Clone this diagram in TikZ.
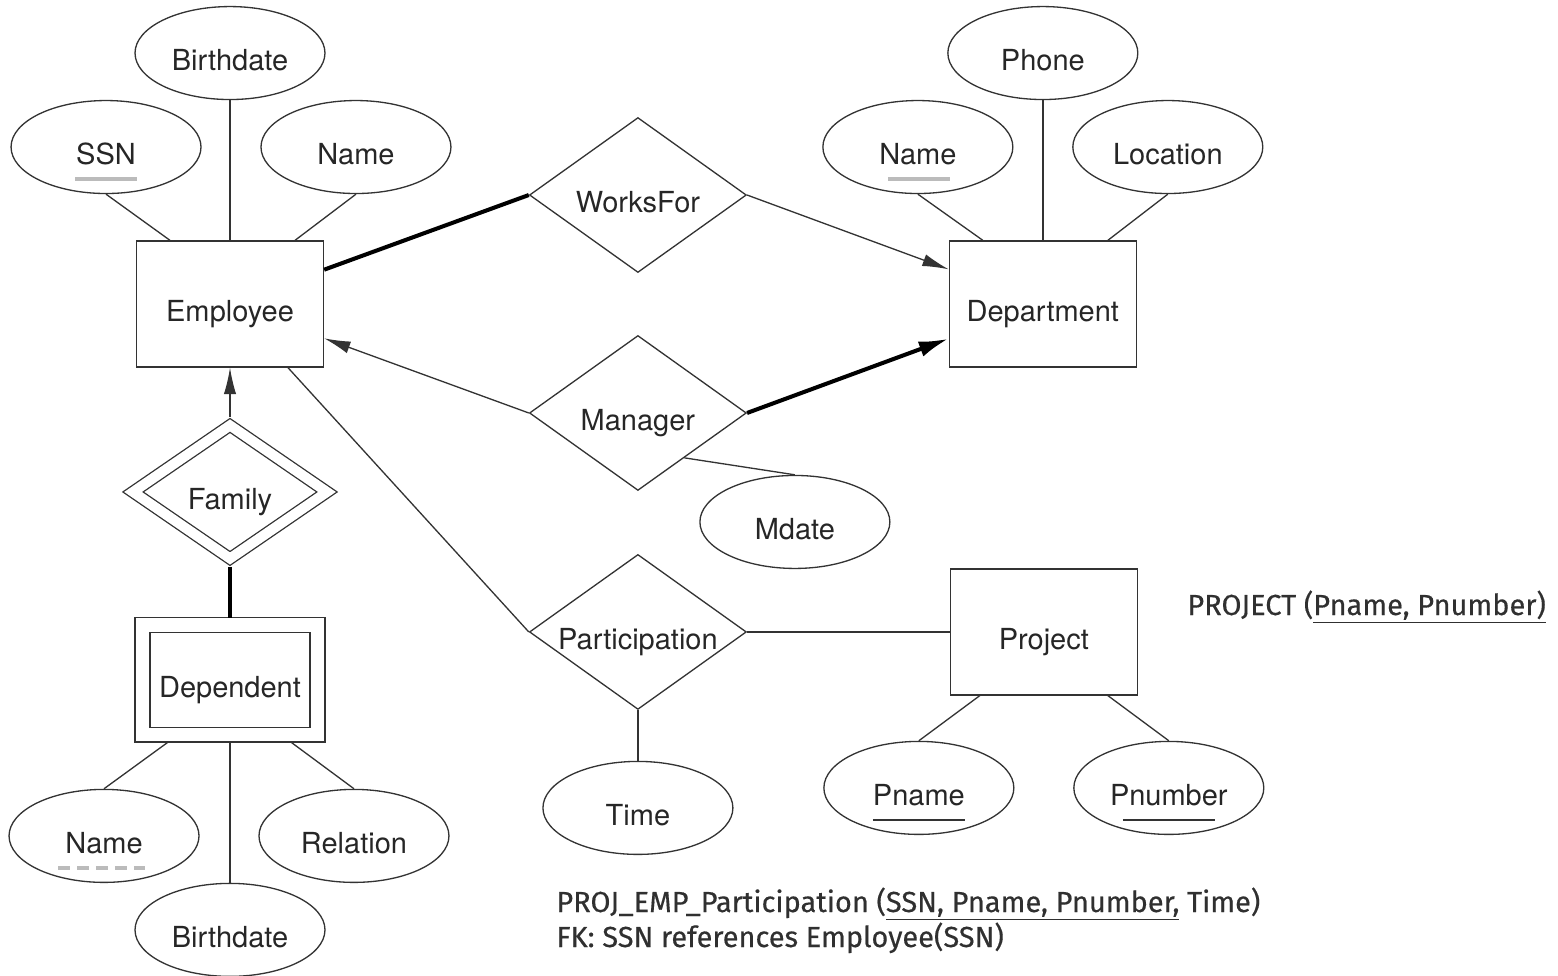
\documentclass[tikz,border=0pt]{standalone}
\usepackage{fontspec}
\newfontfamily\erfont{TeX Gyre Heros}
\newfontfamily\notefont{Fira Sans}[FakeBold=0.4]
\usetikzlibrary{positioning,shapes.geometric,arrows.meta}
\definecolor{erline}{HTML}{333333}
\definecolor{keygray}{HTML}{BBBBBB}
\definecolor{notegray}{HTML}{303030}

\tikzset{
  erfont/.style={font=\erfont\fontsize{16.5pt}{20pt}\selectfont, text=black!85,
    text height=20pt, text depth=0pt},
  entity/.style={erfont, draw=erline, line width=0.75pt, rectangle, inner sep=0pt,
    minimum width=3.74cm, minimum height=2.52cm},
  weakentity/.style={entity, double, double distance=0.27cm, outer sep=0.15cm,
    minimum width=3.5cm, minimum height=2.19cm},
  attr/.style={erfont, draw=erline, line width=0.75pt, ellipse, inner sep=0pt,
    minimum width=3.8cm, minimum height=1.86cm},
  relation/.style={erfont, draw=erline, line width=0.75pt, diamond, aspect=1.4, inner sep=0pt,
    minimum width=4.34cm, minimum height=3.1cm},
  weakrel/.style={relation, double, double distance=0.2cm, outer sep=0.12cm, aspect=1.44,
    minimum width=3.98cm, minimum height=2.76cm},
  link/.style={draw=erline, line width=0.75pt},
  total/.style={draw=black, line width=2.3pt},
  toone/.style={link, -{Latex[length=15pt, width=7pt]}},
  totalone/.style={total, -{Latex[length=17pt, width=9pt]}},
  keyline/.style={draw=keygray, line width=2.6pt},
  partkey/.style={keyline, dash pattern=on 6.8pt off 4pt},
  pkey/.style={draw=black!80, line width=0.8pt},
  note/.style={font=\notefont\fontsize{16.5pt}{20pt}\selectfont, text=notegray, inner sep=0pt}
}

\begin{document}
\begin{tikzpicture}[x=0.02cm, y=-0.02cm, on grid]

  \useasboundingbox (0,0) rectangle (1558,976);

  % entities and relationships
  \node[entity] (emp) at (230,304) {Employee};
  \node[entity, right=16.26cm of emp] (dept) {Department};
  \node[relation, above right=2.18cm and 8.16cm of emp] (wf) {WorksFor};
  \node[relation, below right=2.18cm and 8.16cm of emp] (mgr) {Manager};
  \node[weakrel, below=3.76cm of emp] (fam) {Family};
  \node[weakentity, below=3.76cm of fam] (dep) {Dependent};
  \node[relation, below=4.38cm of mgr] (part) {Participation};
  \node[entity, right=8.12cm of part] (proj) {Project};

  % attributes
  \node[attr, above=5.02cm of emp] (empbd) {Birthdate};
  \node[attr, above left=3.14cm and 2.48cm of emp] (ssn) {SSN};
  \node[attr, above right=3.14cm and 2.52cm of emp] (empname) {Name};
  \node[attr, above=5.02cm of dept] (phone) {Phone};
  \node[attr, above left=3.14cm and 2.5cm of dept] (deptname) {Name};
  \node[attr, above right=3.14cm and 2.5cm of dept] (loc) {Location};
  \node[attr, below right=2.18cm and 3.14cm of mgr] (mdate) {Mdate};
  \node[attr, below=3.52cm of part] (time) {Time};
  \node[attr, below left=3.12cm and 2.5cm of proj] (pname) {Pname};
  \node[attr, below right=3.12cm and 2.5cm of proj] (pnum) {Pnumber};
  \node[attr, below left=3.12cm and 2.52cm of dep] (depname) {Name};
  \node[attr, below right=3.12cm and 2.48cm of dep] (rel) {Relation};
  \node[attr, below=5cm of dep] (depbd) {Birthdate};

  % keys
  \draw[keyline] ([shift={(-31,32)}]ssn.center) -- ++(62,0);
  \draw[keyline] ([shift={(-30,32)}]deptname.center) -- ++(62,0);
  \draw[partkey] ([shift={(-46,32)}]depname.center) -- ++(87,0);
  \draw[pkey] ([shift={(-46,32)}]pname.center) -- ++(92,0);
  \draw[pkey] ([shift={(-46,32)}]pnum.center) -- ++(92,0);

  % attribute links
  \draw[link] (ssn.south) -- ([xshift=-1.2cm]emp.north);
  \draw[link] (empbd.south) -- (emp.north);
  \draw[link] (empname.south) -- ([xshift=1.3cm]emp.north);
  \draw[link] (deptname.south) -- ([xshift=-1.2cm]dept.north);
  \draw[link] (phone.south) -- (dept.north);
  \draw[link] (loc.south) -- ([xshift=1.3cm]dept.north);
  \draw[link] (mgr.-44) -- (mdate.north);
  \draw[link] (part.south) -- (time.north);
  \draw[link] ([xshift=-1.28cm]proj.south) -- (pname.north);
  \draw[link] ([xshift=1.28cm]proj.south) -- (pnum.north);
  \draw[link] ([xshift=-1.24cm]dep.south) -- (depname.north);
  \draw[link] (dep.south) -- (depbd.north);
  \draw[link] ([xshift=1.22cm]dep.south) -- (rel.north);

  % relationship links
  \draw[total] (emp) -- (wf.west);
  \draw[toone] (wf.east) -- (dept);
  \draw[toone] (mgr.west) -- (emp);
  \draw[totalone] (mgr.east) -- (dept);
  \draw[toone] (fam.north) -- (emp.south);
  \draw[total] (fam.south) -- (dep.north);
  \draw[link] (emp) -- (part.west);
  \draw[link] (part.east) -- (proj);

  % relational schema notes
  \node[note, anchor=base west] (projtab) at (1187,615) {PROJECT (\underline{Pname, Pnumber)}};
  \node[note, anchor=base west] (parttab) at (556,912) {PROJ\_EMP\_Participation (\underline{SSN, Pname, Pnumber,} Time)};
  \node[note, anchor=base west] (fknote) at (556,947) {FK: SSN references Employee(SSN)};

\end{tikzpicture}
\end{document}
